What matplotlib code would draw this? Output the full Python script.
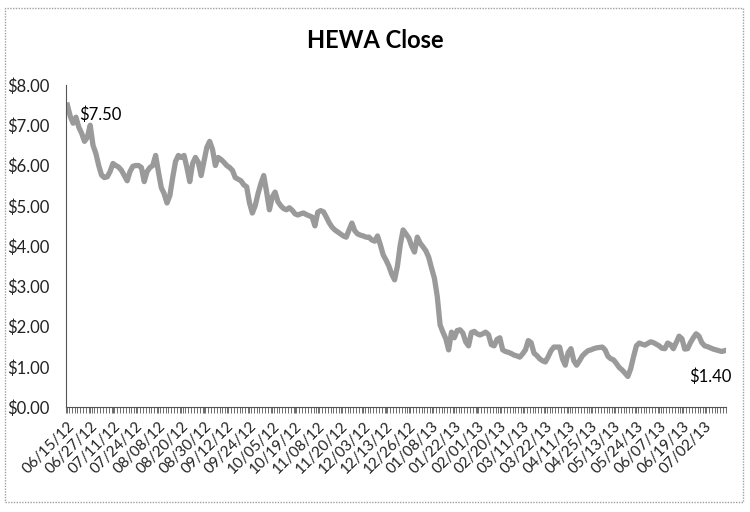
import matplotlib
matplotlib.use("Agg")
from matplotlib import pyplot as plt
from matplotlib.patches import Rectangle
from matplotlib.ticker import FuncFormatter, FixedLocator
import numpy as np

# date labels shown on the category axis (every 8th trading day)
tick_labels = ["06/15/12", "06/27/12", "07/11/12", "07/24/12", "08/08/12", "08/20/12",
               "08/30/12", "09/12/12", "09/24/12", "10/05/12", "10/19/12", "11/08/12",
               "11/20/12", "12/03/12", "12/13/12", "12/26/12", "01/08/13", "01/22/13",
               "02/01/13", "02/20/13", "03/11/13", "03/22/13", "04/11/13", "04/25/13",
               "05/13/13", "05/24/13", "06/07/13", "06/19/13", "07/02/13"]
label_step = 8

# daily close (8 values per labelled interval)
close = [
    7.50, 7.22, 7.05, 7.20, 6.95, 6.80, 6.60, 6.70,
    7.00, 6.50, 6.30, 6.00, 5.76, 5.70, 5.72, 5.85,
    6.05, 6.00, 5.96, 5.88, 5.75, 5.62, 5.85, 5.98,
    6.00, 6.00, 5.95, 5.60, 5.85, 5.95, 6.00, 6.25,
    5.84, 5.45, 5.30, 5.07, 5.25, 5.70, 6.10, 6.25,
    6.20, 6.25, 5.95, 5.60, 6.05, 6.20, 6.08, 5.75,
    6.10, 6.45, 6.60, 6.40, 6.00, 6.20, 6.15, 6.08,
    6.00, 5.95, 5.88, 5.70, 5.66, 5.62, 5.52, 5.47,
    5.07, 4.82, 5.00, 5.30, 5.55, 5.75, 5.35, 4.90,
    5.22, 5.34, 5.10, 5.00, 4.93, 4.90, 4.95, 4.89,
    4.80, 4.77, 4.80, 4.82, 4.78, 4.75, 4.72, 4.50,
    4.84, 4.88, 4.85, 4.72, 4.58, 4.47, 4.40, 4.35,
    4.30, 4.25, 4.22, 4.40, 4.57, 4.38, 4.30, 4.27,
    4.25, 4.22, 4.22, 4.15, 4.12, 4.25, 4.03, 3.78,
    3.65, 3.50, 3.30, 3.16, 3.50, 4.03, 4.40, 4.30,
    4.20, 4.00, 3.85, 4.22, 4.07, 3.98, 3.88, 3.72,
    3.45, 3.20, 2.75, 2.04, 1.86, 1.70, 1.42, 1.86,
    1.72, 1.90, 1.92, 1.84, 1.62, 1.52, 1.85, 1.88,
    1.82, 1.79, 1.82, 1.86, 1.80, 1.55, 1.52, 1.68,
    1.72, 1.42, 1.38, 1.36, 1.33, 1.29, 1.27, 1.24,
    1.32, 1.42, 1.65, 1.60, 1.34, 1.28, 1.20, 1.15,
    1.12, 1.25, 1.40, 1.49, 1.49, 1.49, 1.20, 1.04,
    1.35, 1.45, 1.15, 1.04, 1.15, 1.27, 1.34, 1.40,
    1.42, 1.45, 1.47, 1.48, 1.49, 1.42, 1.26, 1.20,
    1.17, 1.08, 0.98, 0.92, 0.84, 0.76, 0.95, 1.25,
    1.52, 1.59, 1.56, 1.54, 1.58, 1.62, 1.60, 1.56,
    1.52, 1.46, 1.45, 1.59, 1.55, 1.45, 1.60, 1.76,
    1.70, 1.44, 1.45, 1.60, 1.72, 1.82, 1.76, 1.60,
    1.52, 1.50, 1.47, 1.44, 1.42, 1.40, 1.38, 1.40,
]

font = "Lato"
x = np.arange(len(close))

fig = plt.figure(figsize=(7.5, 5.12), dpi=100)
ax = fig.add_axes([0.088, 0.205, 0.88, 0.629])

ax.plot(x, close, color="#9a9a9a", linewidth=3.8, solid_joinstyle="round")

ax.set_xlim(-0.5, len(close) - 0.5)
ax.set_ylim(0, 8)
ax.set_yticks(np.arange(0, 9, 1))
ax.yaxis.set_major_formatter(FuncFormatter(lambda v, p: "${:.2f}".format(v)))
ax.tick_params(axis="y", length=0, pad=12, labelsize=12, labelcolor="#222222")

ax.set_xticks(x[::label_step])
ax.set_xticklabels(tick_labels, rotation=45, ha="right", rotation_mode="anchor",
                   fontsize=11, color="#222222")
ax.xaxis.set_minor_locator(FixedLocator(np.arange(-0.5, len(close), 1)))
ax.tick_params(axis="x", which="both", direction="out", length=4, width=0.6,
               color="#555555", pad=5)

for lab in ax.get_xticklabels() + ax.get_yticklabels():
    lab.set_family(font)

for s in ["top", "right"]:
    ax.spines[s].set_visible(False)
for s in ["left", "bottom"]:
    ax.spines[s].set_color("#555555")
    ax.spines[s].set_linewidth(0.8)

# data labels on first and last point
ax.annotate("${:.2f}".format(close[0]), (x[0], close[0]), xytext=(12, -10),
            textcoords="offset pixels", fontsize=12, family=font, va="center", ha="left")
ax.annotate("${:.2f}".format(close[-1]), (x[-1], close[-1]), xytext=(-14, -26),
            textcoords="offset pixels", fontsize=12, family=font, va="center", ha="center")

fig.text(0.5, 1 - 40 / 512, "HEWA Close", ha="center", va="center",
         fontsize=17, fontweight="bold", family=font)

# chart frame
fig.patches.append(Rectangle((5 / 750, 10 / 512), 738 / 750, 494 / 512, transform=fig.transFigure,
                             fill=False, edgecolor="#a0a0a0", linewidth=1.0, linestyle=(0, (1, 1))))

plt.savefig("out.png", dpi=100)
